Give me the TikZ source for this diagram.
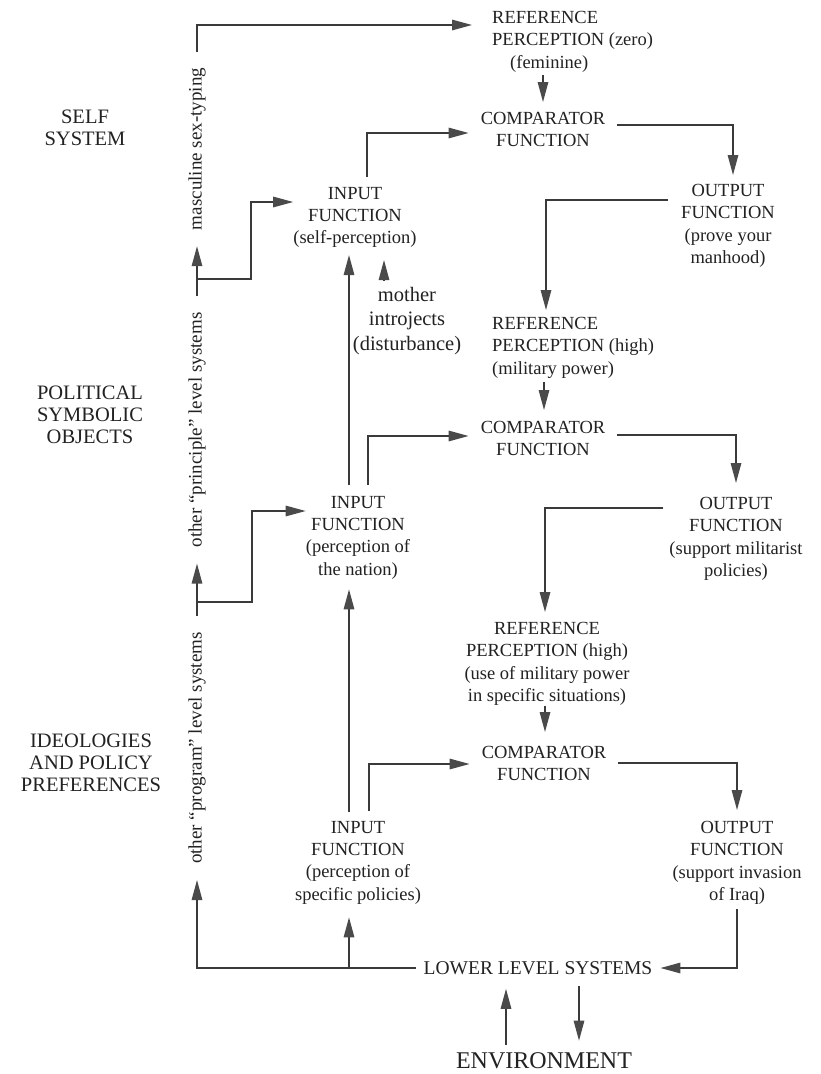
\documentclass[tikz,border=0pt]{standalone}
\usepackage{fontspec}
\setmainfont{Liberation Serif}
\usetikzlibrary{arrows.meta,calc}
\definecolor{ink}{HTML}{222222}
\definecolor{wirec}{HTML}{3A3A3A}
\definecolor{headc}{HTML}{4A4A4A}
\begin{document}
\begin{tikzpicture}[x=1pt,y=-1pt,
  txt/.style={font=\fontsize{18.5}{22.3}\selectfont, align=center, inner sep=0pt, text=ink, anchor=north},
  cmp/.style={txt, inner xsep=12pt, inner ysep=0pt},
  lab/.style={font=\fontsize{20.5}{22}\selectfont, align=center, text=ink, inner sep=0pt},
  vlab/.style={font=\fontsize{19}{22}\selectfont, rotate=90, inner xsep=16pt, inner ysep=2pt, text=ink},
  wire/.style={draw=wirec, line width=1.4pt},
  arr/.style={wire, -{Triangle[length=20pt,width=10.5pt,color=headc]}}]
\useasboundingbox[fill=white] (0,0) rectangle (820,1074);

% left labels
\node[lab] (self) at (85,128) {SELF\\SYSTEM};
\node[lab] (pol) at (90,415) {POLITICAL\\SYMBOLIC\\OBJECTS};
\node[lab] (ideo) at (91,763) {IDEOLOGIES\\AND POLICY\\PREFERENCES};

% vertical labels
\node[vlab] (masc) at (197,149) {masculine sex-typing};
\node[vlab] (princ) at (197,430) {other ``principle'' level systems};
\node[vlab] (prog) at (197,748) {other ``program'' level systems};

% self system
\node[txt, anchor=north west, align=left, inner xsep=20pt, inner ysep=0pt] (ref1) at (472,11) {REFERENCE\\PERCEPTION (zero)\\\hspace*{18pt}(feminine)};
\node[cmp] (comp1) at (543,112) {COMPARATOR\\FUNCTION};
\node[txt] (out1) at (728,184) {OUTPUT\\FUNCTION\\(prove your\\manhood)};
\node[txt] (in1) at (355,187) {INPUT\\FUNCTION\\(self-perception)};
\node[txt, font=\fontsize{20.5}{24.5}\selectfont] (moth) at (407,287) {mother\\introjects\\(disturbance)};

% political symbolic objects
\node[txt, anchor=north west, align=left] (ref2) at (492,317) {REFERENCE\\PERCEPTION (high)\\(military power)};
\node[cmp] (comp2) at (543,421) {COMPARATOR\\FUNCTION};
\node[txt] (out2) at (736,497) {OUTPUT\\FUNCTION\\(support militarist\\policies)};
\node[txt] (in2) at (358,496) {INPUT\\FUNCTION\\(perception of\\the nation)};

% ideologies
\node[txt] (ref3) at (547,622) {REFERENCE\\PERCEPTION (high)\\(use of military power\\in specific situations)};
\node[cmp] (comp3) at (544,746) {COMPARATOR\\FUNCTION};
\node[txt] (in3) at (358,821) {INPUT\\FUNCTION\\(perception of\\specific policies)};
\node[txt] (out3) at (737,821) {OUTPUT\\FUNCTION\\(support invasion\\of Iraq)};

% bottom
\node[txt, font=\fontsize{19.5}{22}\selectfont, anchor=center, inner xsep=8pt] (lls) at (538,968) {LOWER LEVEL SYSTEMS};
\node[txt, font=\fontsize{24}{28}\selectfont, anchor=center] (env) at (544,1061) {ENVIRONMENT};

\coordinate (b1) at (197,279);
\coordinate (b2) at (197,602);
\coordinate (b3) at (349,968);

% left column
\draw[arr] (masc.east) |- (ref1.west |- 0,25);
\draw[arr] (princ.east) -- (masc.west);
\draw[arr] (prog.east) -- (princ.west);
\draw[arr] (lls.west) -| (prog.west);
\draw[arr] (b1) -- (251,279) |- (in1.west |- 0,202);
\draw[arr] (b2) -- (252,602) |- (in2.west |- 0,511);
\draw[arr, shorten >=13pt] (b3) -- (in3.south -| b3);

% self system links
\draw[arr, shorten <=3pt, shorten >=10pt] (ref1.south -| 543,0) -- (comp1.north -| 543,0);
\draw[arr, shorten <=10pt] (in1.north -| 367,0) |- (comp1.west |- 0,133);
\draw[arr, shorten >=9pt] (comp1.east |- 0,125) -| (out1.north -| 733,0);
\draw[arr, shorten >=7pt] ($(out1.west |- 0,200)+(-13,0)$) -| (ref2.north -| 546,0);
\draw[arr, shorten <=7pt, shorten >=12pt] (moth.north -| 384,0) -- (in1.south -| 384,0);
\draw[arr, shorten <=11pt, shorten >=7pt] (in2.north -| 349,0) -- (in1.south -| 349,0);

% political links
\draw[arr, shorten <=4pt, shorten >=11pt] (ref2.south -| 544,0) -- (comp2.north -| 544,0);
\draw[arr, shorten <=11pt] (in2.north -| 368,0) |- (comp2.west |- 0,436);
\draw[arr, shorten >=14pt] (comp2.east |- 0,435) -| (out2.north -| 736,0);
\draw[arr, shorten <=6pt, shorten >=10pt] (out2.west |- 0,508) -| (ref3.north -| 545,0);
\draw[arr, shorten <=9pt, shorten >=10pt] (in3.north -| 349,0) -- (in2.south -| 349,0);

% ideologies links
\draw[arr, shorten <=1pt, shorten >=14pt] (ref3.south -| 545,0) -- (comp3.north -| 545,0);
\draw[arr, shorten <=10pt] (in3.north -| 369,0) |- (comp3.west |- 0,764);
\draw[arr, shorten >=11pt] (comp3.east |- 0,763) -| (out3.north -| 737,0);
\draw[arr, shorten <=5pt] (out3.south) |- (lls.east);

% environment
\draw[arr, shorten <=8pt, shorten >=14pt] (env.north -| 506,0) -- (lls.south -| 506,0);
\draw[arr, shorten <=11pt, shorten >=12pt] (lls.south -| 579,0) -- (env.north -| 579,0);
\end{tikzpicture}
\end{document}
